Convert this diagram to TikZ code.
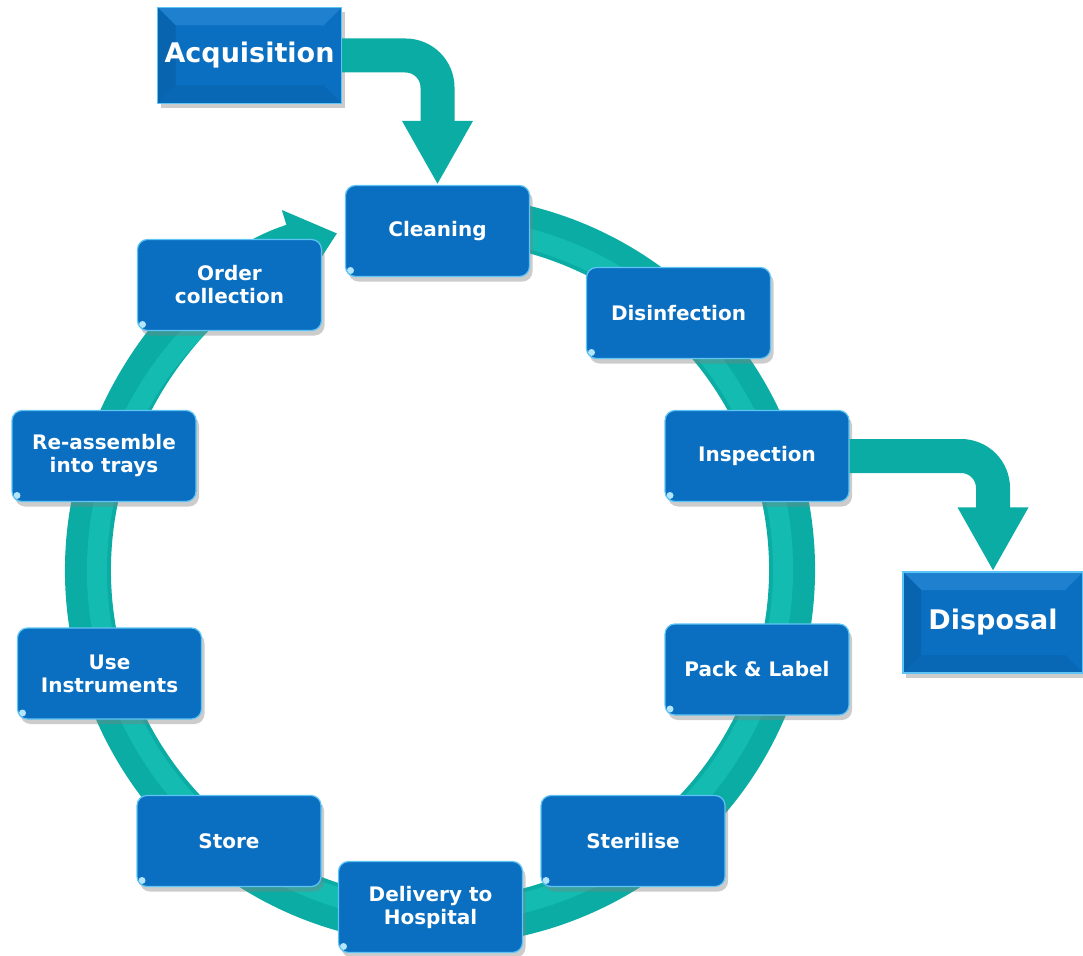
\documentclass[tikz,border=0pt]{standalone}
\usepackage{fontspec}
\setmainfont{DejaVu Sans}
\usetikzlibrary{arrows.meta,shadows}

\definecolor{boxblue}{HTML}{0A6FC0}
\definecolor{edgeblue}{HTML}{5EC4F5}
\definecolor{ringteal}{HTML}{0BACA4}
\definecolor{ringlight}{HTML}{13BBB1}
\definecolor{bevellight}{HTML}{1E80CE}
\definecolor{beveldark}{HTML}{0864AF}

\tikzset{
  stage/.style={rectangle, rounded corners=10pt, fill=boxblue, draw=edgeblue, line width=1.2pt,
    minimum width=184pt, minimum height=91pt, align=center, text=white,
    font=\fontsize{20}{23}\selectfont\bfseries,
    drop shadow={shadow xshift=3pt, shadow yshift=-5pt, opacity=0.4},
    path picture={\fill[white!70!cyan] ([xshift=5pt,yshift=6pt]path picture bounding box.south west) circle (3.5pt);}},
  endpoint/.style={rectangle, fill=boxblue, draw=edgeblue, line width=1.2pt,
    minimum width=184pt, minimum height=96pt, align=center, text=white,
    font=\fontsize{27}{30}\selectfont\bfseries,
    drop shadow={shadow xshift=3pt, shadow yshift=-5pt, opacity=0.4},
    path picture={
      \fill[bevellight] (path picture bounding box.north west) -- (path picture bounding box.north east)
        -- ([xshift=-18pt,yshift=-18pt]path picture bounding box.north east)
        -- ([xshift=18pt,yshift=-18pt]path picture bounding box.north west) -- cycle;
      \fill[beveldark] (path picture bounding box.north west) -- ([xshift=18pt,yshift=-18pt]path picture bounding box.north west)
        -- ([xshift=18pt,yshift=18pt]path picture bounding box.south west)
        -- (path picture bounding box.south west) -- cycle;
      \fill[beveldark!60!boxblue] (path picture bounding box.south west) -- (path picture bounding box.south east)
        -- ([xshift=-18pt,yshift=18pt]path picture bounding box.south east)
        -- ([xshift=18pt,yshift=18pt]path picture bounding box.south west) -- cycle;
    }},
  ring/.style={draw=ringteal, line width=46pt, -{Triangle[length=46pt,width=74pt]}},
  flow/.style={draw=ringteal, line width=34pt, rounded corners=32pt, -{Triangle[length=64pt,width=66pt]}},
}

\begin{document}
\begin{tikzpicture}[x=1pt, y=-1pt]
  \useasboundingbox (0,0) rectangle (1083,955);

  % cycle ring
  \draw[ring] (440,570) ++(-80:352) arc[start angle=-80, end angle=253, radius=352];
  \draw[ringlight, line width=20pt] (440,570) ++(-80:343) arc[start angle=-80, end angle=244, radius=343];

  % Nodes
  \node[endpoint] (acq)        at (249.5,55.5) {Acquisition};
  \node[endpoint, minimum width=180pt, minimum height=101pt] (disposal) at (993,622.5) {Disposal};

  \node[stage] (cleaning)   at (437.5,231) {Cleaning};
  \node[stage] (disinf)     at (678.5,313) {Disinfection};
  \node[stage] (inspect)    at (757,456)   {Inspection};
  \node[stage] (pack)       at (757,669.5) {Pack \& Label};
  \node[stage] (sterilise)  at (633,841)   {Sterilise};
  \node[stage] (delivery)   at (430.5,907) {Delivery to\\Hospital};
  \node[stage] (store)      at (229,841)   {Store};
  \node[stage] (use)        at (109.5,673.5) {Use\\Instruments};
  \node[stage] (reassemble) at (104,456)   {Re-assemble\\into trays};
  \node[stage] (order)      at (229.5,285) {Order\\collection};

  % Edges
  \draw[flow] (acq.east) -| (cleaning.north);
  \draw[flow] (inspect.east) -| (disposal.north);
\end{tikzpicture}
\end{document}
